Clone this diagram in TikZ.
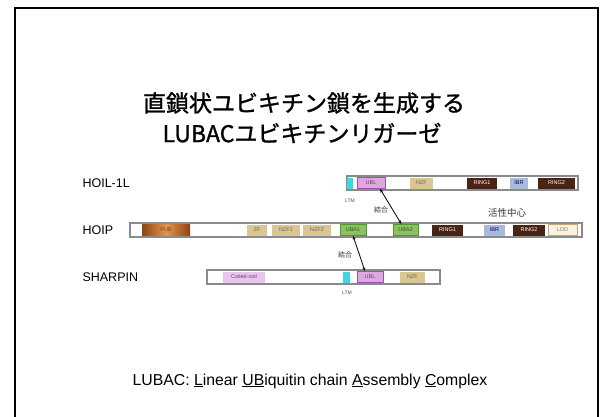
\documentclass[tikz,border=0pt]{standalone}
\usepackage{fontspec}
\setmainfont{Liberation Sans}
\newfontfamily\jp{Noto Sans CJK JP}
\newfontfamily\jptitle[FakeBold=1.2]{Noto Sans CJK JP}
\usetikzlibrary{arrows.meta,calc}
\definecolor{ringc}{HTML}{4B2312}
\definecolor{pubd}{HTML}{8B4513}
\definecolor{publ}{HTML}{E8934A}
\definecolor{zfc}{HTML}{DCC690}
\definecolor{ubac}{HTML}{8CC063}
\definecolor{ubad}{HTML}{4E9A2A}
\definecolor{ibrc}{HTML}{A9BAD9}
\definecolor{lddc}{HTML}{FAF3E3}
\definecolor{lddd}{HTML}{C8A870}
\definecolor{ublc}{HTML}{DBA8DF}
\definecolor{ubld}{HTML}{A050B0}
\definecolor{ltmc}{HTML}{3FD4E6}
\definecolor{ccc}{HTML}{E9C6EB}
\definecolor{barc}{HTML}{8A8A8A}
\tikzset{
  barbox/.style={draw=barc, line width=1.4pt, fill=white, minimum height=14pt, inner sep=0pt},
  dom/.style={minimum height=11pt, inner sep=0pt, font=\fontsize{5.5}{6}\selectfont},
  ring/.style={dom, fill=ringc, text=white},
  zf/.style={dom, fill=zfc, text=black!60},
  uba/.style={dom, fill=ubac, draw=ubad, line width=0.6pt, text=ubad!60!black},
  ibr/.style={dom, fill=ibrc, text=blue!40!black},
  ldd/.style={dom, fill=lddc, draw=lddd, line width=0.8pt, text=lddd!70!black},
  ubl/.style={dom, fill=ublc, draw=ubld, line width=0.6pt, text=ubld!70!black},
  ltm/.style={dom, fill=ltmc},
  pub/.style={dom, left color=pubd, right color=pubd, middle color=publ, text=black!70},
  cc/.style={dom, fill=ccc, text=ubld!70!black},
  prot/.style={font=\fontsize{12.5}{14}\selectfont, anchor=west},
  small/.style={font=\fontsize{5}{6}\selectfont, text=black!70},
  jpsmall/.style={font=\jp\fontsize{7}{8}\selectfont, text=black!80},
  link/.style={{Stealth[length=4pt,width=3pt]}-{Stealth[length=4pt,width=3pt]}, line width=0.8pt}
}
\begin{document}
\begin{tikzpicture}[x=1pt,y=-1pt]
\useasboundingbox (0,0) rectangle (601,416);
\fill[white] (0,0) rectangle (601,416);
\draw[line width=2pt] (15,418) -- (15,8) -- (598,8) -- (598,418);

% title
\node[font=\jptitle\fontsize{23}{25}\selectfont] (t1) at (304,103) {直鎖状ユビキチン鎖を生成する};
\node[font=\jptitle\fontsize{23}{25}\selectfont] (t2) at (302,133) {LUBACユビキチンリガーゼ};

% HOIL-1L
\node[prot] (lh) at (79,183) {HOIL-1L};
\node[barbox, minimum width=231pt] (hbar) at (462.5,183) {};
\node[ltm, minimum width=6pt] (hLTM) at (350,183) {};
\node[ubl, minimum width=28pt] (hUBL) at (371,183) {UBL};
\node[zf, minimum width=23pt] (hNZF) at (421.5,183) {NZF};
\node[ring, minimum width=30pt] (hR1) at (482,183) {RING1};
\node[ibr, minimum width=18pt] (hIBR) at (519,183) {IBR};
\node[ring, minimum width=37pt] (hR2) at (556.5,183) {RING2};
\node[small] (hltml) at (350,201) {LTM};

% HOIP
\node[prot] (lp) at (79,230) {HOIP};
\node[barbox, minimum width=452pt] (pbar) at (356,230) {};
\node[pub, minimum width=48pt] (pPUB) at (166,230) {PUB};
\node[zf, minimum width=20pt] (pZF) at (257,230) {ZF};
\node[zf, minimum width=28pt] (pN1) at (286,230) {NZF1};
\node[zf, minimum width=28pt] (pN2) at (317,230) {NZF2};
\node[uba, minimum width=26pt] (pUBA1) at (353,230) {UBA1};
\node[uba, minimum width=25pt] (pUBA2) at (405.5,230) {UBA2};
\node[ring, minimum width=31pt] (pR1) at (447.5,230) {RING1};
\node[ibr, minimum width=21pt] (pIBR) at (494.5,230) {IBR};
\node[ring, minimum width=32pt] (pR2) at (529,230) {RING2};
\node[ldd, minimum width=29pt] (pLDD) at (562.5,230) {LDD};
\node[jpsmall, font=\jp\fontsize{9.5}{10}\selectfont] (act) at (507,213) {活性中心};

% SHARPIN
\node[prot] (ls) at (79,277) {SHARPIN};
\node[barbox, minimum width=233pt] (sbar) at (323.5,277) {};
\node[cc, minimum width=42pt] (sCC) at (244,277) {Coiled-coil};
\node[ltm, minimum width=7pt] (sLTM) at (346,277) {};
\node[ubl, minimum width=26pt] (sUBL) at (370,277) {UBL};
\node[zf, minimum width=25pt] (sNZF) at (412.5,277) {NZF};
\node[small] (sltml) at (347,293) {LTM};

% binding arrows
\draw[link] ([xshift=9pt]hUBL.south) -- ([xshift=-4pt]pUBA2.north);
\node[jpsmall] (b1) at (381,210) {結合};
\draw[link] (pUBA1.south) -- ([xshift=-5pt]sUBL.north);
\node[jpsmall] (b2) at (345,255) {結合};

% footnote
\node[font=\fontsize{15.8}{18}\selectfont] (foot) at (310,381)
  {LUBAC: \underline{L}inear \underline{UB}iquitin chain \underline{A}ssembly \underline{C}omplex};
\end{tikzpicture}
\end{document}
